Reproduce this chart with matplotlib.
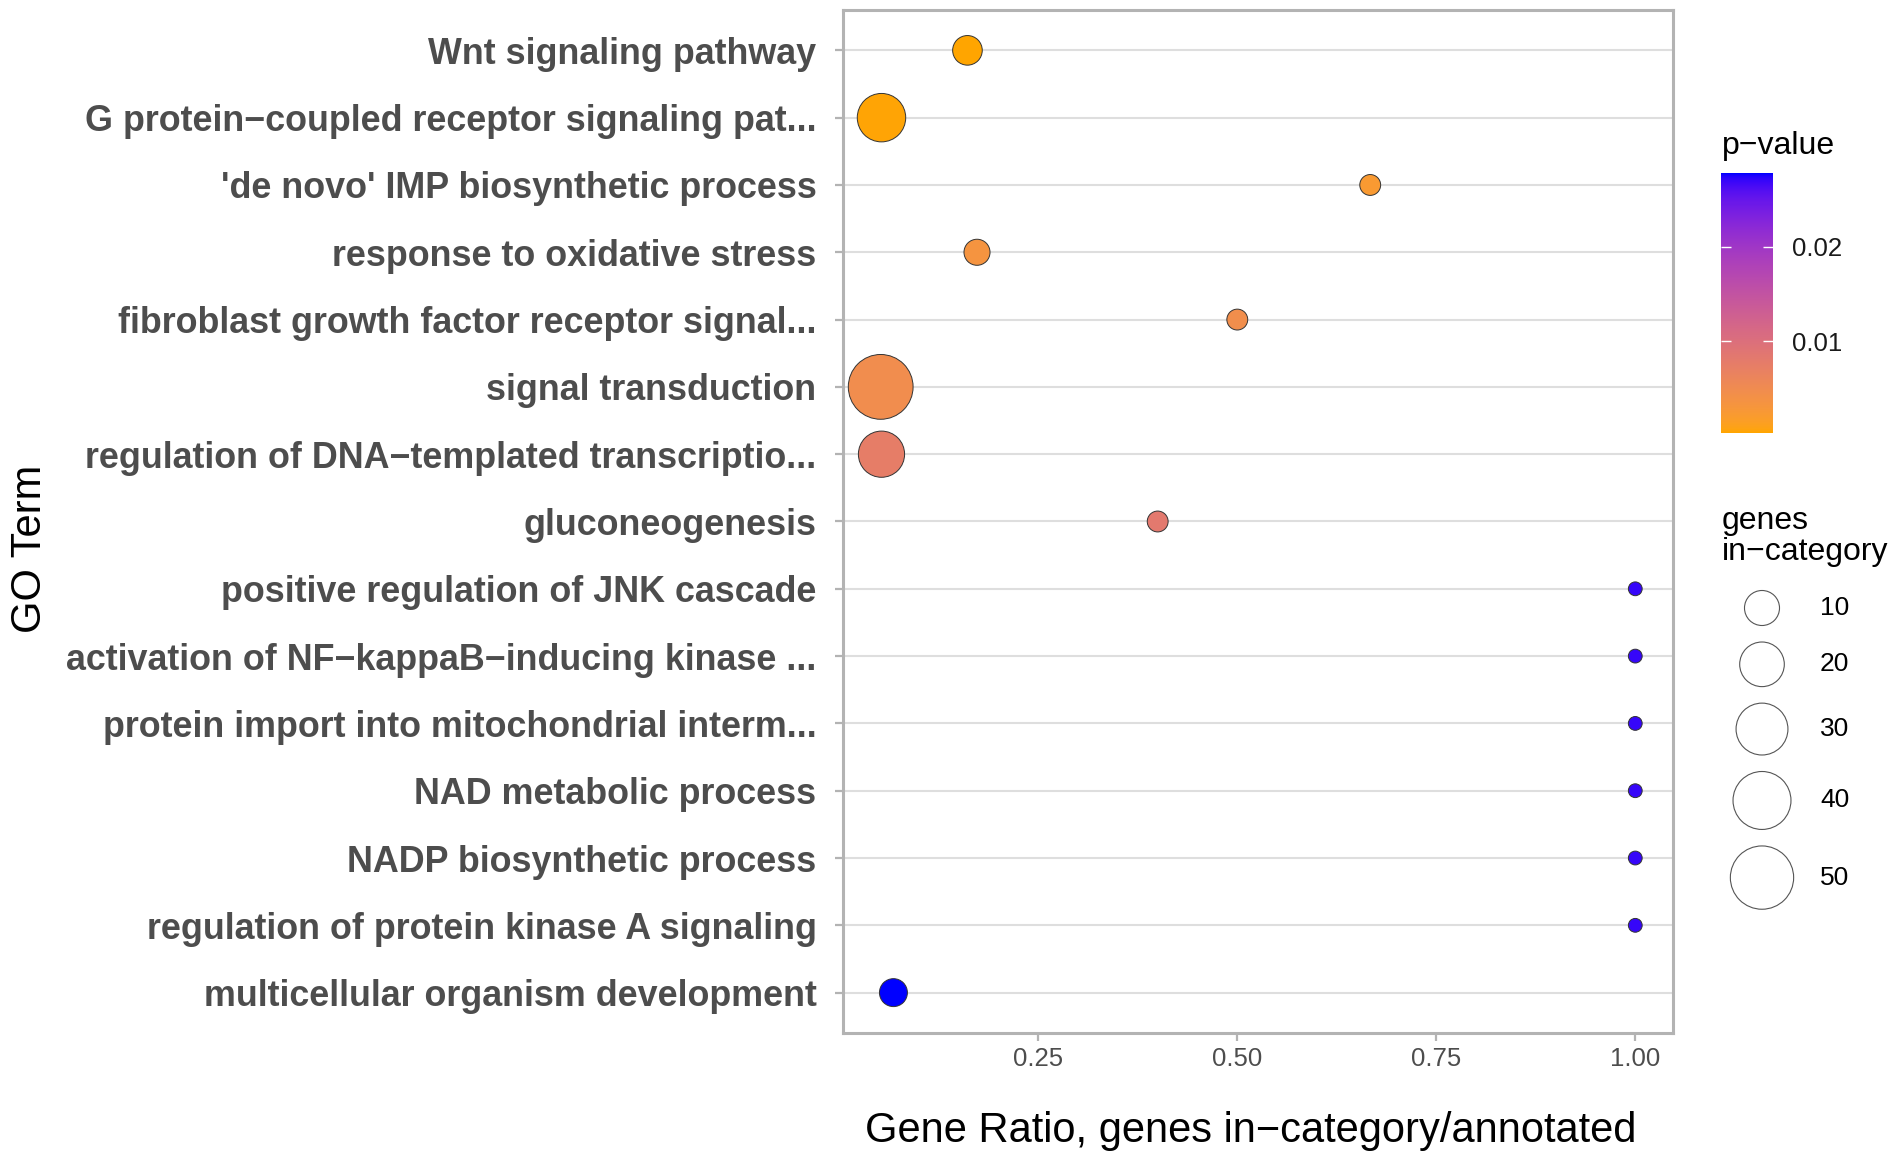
# -*- coding: utf-8 -*-
import numpy as np
import matplotlib
matplotlib.use('Agg')
import matplotlib.pyplot as plt
from matplotlib.colors import ListedColormap, Normalize
from matplotlib.cm import ScalarMappable

plt.rcParams['font.family'] = ['Liberation Sans', 'DejaVu Sans']

# GO terms, top to bottom
terms = ["Wnt signaling pathway",
         "G protein\u2212coupled receptor signaling pat...",
         "'de novo' IMP biosynthetic process",
         "response to oxidative stress",
         "fibroblast growth factor receptor signal...",
         "signal transduction",
         "regulation of DNA\u2212templated transcriptio...",
         "gluconeogenesis",
         "positive regulation of JNK cascade",
         "activation of NF\u2212kappaB\u2212inducing kinase ...",
         "protein import into mitochondrial interm...",
         "NAD metabolic process",
         "NADP biosynthetic process",
         "regulation of protein kinase A signaling",
         "multicellular organism development"]
gene_ratio = [0.161, 0.053, 0.667, 0.173, 0.50, 0.052, 0.053, 0.40,
              1.0, 1.0, 1.0, 1.0, 1.0, 1.0, 0.068]
genes_in_cat = [6, 25, 2, 4, 2, 53, 22, 2, 1, 1, 1, 1, 1, 1, 5]
pvalue = [0.0003, 0.0005, 0.0024, 0.0035, 0.0045, 0.0048, 0.0075, 0.0083,
          0.0270, 0.0270, 0.0270, 0.0270, 0.0270, 0.0270, 0.0278]

size_breaks = [10, 20, 30, 40, 50]
p_breaks = [0.01, 0.02]

DPI = 100
W, H = 1902, 1159


# ggplot-like gradient (orange -> blue, interpolated in CIELAB)
M = np.array([[0.4124, 0.3576, 0.1805],
              [0.2126, 0.7152, 0.0722],
              [0.0193, 0.1192, 0.9505]])
WHITE = np.array([0.95047, 1.0, 1.08883])

def to_lab(rgb):
    c = np.asarray(rgb, float)
    lin = np.where(c <= 0.04045, c / 12.92, ((c + 0.055) / 1.055) ** 2.4)
    xyz = M @ lin / WHITE
    f = np.where(xyz > 0.008856, np.cbrt(xyz), 7.787 * xyz + 16 / 116)
    return np.array([116 * f[1] - 16, 500 * (f[0] - f[1]), 200 * (f[1] - f[2])])

def from_lab(lab):
    fy = (lab[0] + 16) / 116
    f = np.array([fy + lab[1] / 500, fy, fy - lab[2] / 200])
    xyz = np.where(f ** 3 > 0.008856, f ** 3, (f - 16 / 116) / 7.787) * WHITE
    lin = np.clip(np.linalg.solve(M, xyz), 0, 1)
    c = np.where(lin <= 0.0031308, 12.92 * lin, 1.055 * lin ** (1 / 2.4) - 0.055)
    return np.clip(c, 0, 1)

lo, hi = to_lab([1.0, 165 / 255, 0.0]), to_lab([0.0, 0.0, 1.0])
cmap = ListedColormap([from_lab(lo + t * (hi - lo)) for t in np.linspace(0, 1, 256)])
norm = Normalize(vmin=min(pvalue), vmax=max(pvalue))


def marker_px(v):
    # diameter in pixels, area grows with gene count (like scale_size)
    return 13.8 + 7.07 * np.sqrt(np.asarray(v, float) - min(genes_in_cat))

def marker_area(v):
    return (marker_px(v) * 72 / DPI) ** 2


fig = plt.figure(figsize=(W / DPI, H / DPI), dpi=DPI)
ax = fig.add_axes([0.4432, 0.1087, 0.4364, 0.8827])

n = len(terms)
ypos = np.arange(n)[::-1]

ax.scatter(gene_ratio, ypos, s=marker_area(genes_in_cat), c=pvalue, cmap=cmap, norm=norm,
           edgecolors='#333333', linewidths=0.7, zorder=3)

xr = max(gene_ratio) - min(gene_ratio)
ax.set_xlim(min(gene_ratio) - 0.05 * xr, max(gene_ratio) + 0.05 * xr)
ax.set_ylim(-0.6, n - 1 + 0.6)

ax.set_yticks(ypos)
ax.set_yticklabels(terms, fontsize=25.8, fontweight='bold', color='#4D4D4D')
ax.set_xticks([0.25, 0.5, 0.75, 1.0])
ax.set_xticklabels(['0.25', '0.50', '0.75', '1.00'], fontsize=18.5, color='#4D4D4D')
ax.tick_params(axis='y', length=6, width=1.6, color='#B3B3B3', pad=13)
ax.tick_params(axis='x', length=6, width=1.6, color='#B3B3B3', pad=4)

ax.grid(axis='y', color='#DEDEDE', linewidth=1.5, zorder=0)
ax.set_axisbelow(True)
for sp in ax.spines.values():
    sp.set_color('#B3B3B3')
    sp.set_linewidth(2.2)

ax.set_xlabel("Gene Ratio, genes in\u2212category/annotated", fontsize=30, color='black')
ax.xaxis.set_label_coords(0.4916, -0.076)
ax.set_ylabel("GO Term", fontsize=30, color='black')
ax.yaxis.set_label_coords(-0.955, 0.473)

# colour bar (p-value)
cax = fig.add_axes([0.9048, 0.6264, 0.0274, 0.2243])
cb = fig.colorbar(ScalarMappable(norm=norm, cmap=cmap), cax=cax)
cb.outline.set_visible(False)
cb.set_ticks(p_breaks)
cb.set_ticklabels(['%.2f' % p for p in p_breaks])
cax.tick_params(left=True, right=True, direction='in', length=7, width=1,
                color='white', labelsize=18.5, labelcolor='#1A1A1A', pad=14)
fig.text(0.9054, 0.867, "p\u2212value", fontsize=23, va='baseline', ha='left')

# size legend (genes in-category), keys stacked like ggplot: pitch depends on key size
fig.text(0.9054, 0.517, "genes\nin\u2212category", fontsize=23, va='baseline', ha='left',
         linespacing=1.05)
lax = fig.add_axes([0, 0, 1, 1], facecolor='none')
lax.set_xlim(0, W)
lax.set_ylim(H, 0)
lax.axis('off')
d = marker_px(size_breaks)
centers = 608 + np.concatenate([[0], np.cumsum((d[:-1] + d[1:]) / 2 + 16.5)])
lax.scatter(np.full(len(size_breaks), 1762), centers, s=marker_area(size_breaks),
            facecolors='white', edgecolors='#555555', linewidths=0.8)
for b, yc in zip(size_breaks, centers):
    lax.text(1820, yc, str(b), fontsize=19, va='center', ha='left')

plt.savefig('out.png', dpi=DPI)
